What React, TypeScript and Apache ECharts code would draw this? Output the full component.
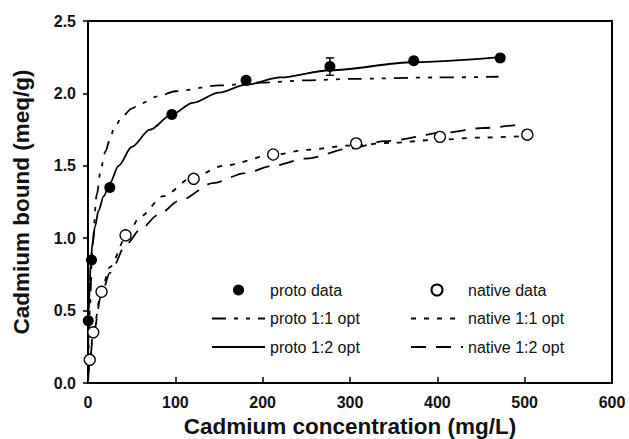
import React, { useEffect, useRef } from "react";
import * as echarts from "echarts";

// Measured data (Cadmium concentration mg/L vs Cadmium bound meq/g)
const protoX = [0.3, 4, 25, 96, 181, 277, 373, 472];
const protoY = [0.43, 0.85, 1.35, 1.855, 2.09, 2.185, 2.225, 2.245];
const protoErr = [0, 0, 0, 0, 0, 0.06, 0.015, 0.02];

const nativeX = [2, 6, 15.5, 43, 121, 212, 307, 403, 503];
const nativeY = [0.16, 0.35, 0.63, 1.02, 1.41, 1.578, 1.655, 1.7, 1.715];

// Model fit curves
const proto11X = [0, 1, 2, 5, 10, 15, 20, 25, 30, 40, 50, 60, 80, 100, 150, 200, 250, 300, 400, 470];
const proto11Y = [0, 0.3, 0.5, 0.95, 1.3, 1.49, 1.6, 1.68, 1.765, 1.845, 1.895, 1.93, 1.98, 2.015, 2.055, 2.075, 2.09, 2.1, 2.11, 2.115];

const proto12X = [0, 0.5, 1, 2, 3, 5, 8, 12, 18, 25, 35, 50, 71, 96, 120, 150, 181, 220, 277, 373, 472];
const proto12Y = [0, 0.35, 0.5, 0.7, 0.82, 0.96, 1.08, 1.19, 1.29, 1.38, 1.5, 1.63, 1.75, 1.855, 1.935, 2.005, 2.06, 2.11, 2.16, 2.215, 2.25];

const native11X = [0, 2, 6, 15, 25, 43, 60, 86, 120, 155, 212, 250, 300, 350, 400, 450, 500];
const native11Y = [0, 0.16, 0.35, 0.63, 0.8, 1.0, 1.15, 1.29, 1.42, 1.5, 1.575, 1.61, 1.64, 1.66, 1.68, 1.695, 1.705];

const native12X = [0, 2, 6, 15, 25, 44, 60, 80, 105, 143, 180, 212, 250, 300, 340, 410, 450, 500];
const native12Y = [0, 0.15, 0.33, 0.6, 0.76, 0.96, 1.06, 1.16, 1.26, 1.38, 1.45, 1.5, 1.55, 1.62, 1.67, 1.73, 1.76, 1.79];

const xTicks = { min: 0, max: 600, interval: 100 };
const yTicks = { min: 0, max: 2.5, interval: 0.5 };

const FONT = "'Liberation Sans', Arial, sans-serif";

const zip = (xs: number[], ys: number[]) => xs.map((x, i) => [x, ys[i]]);

export default function App() {
  const ref = useRef<HTMLDivElement>(null);
  useEffect(() => {
    if (!ref.current) return;
    const chart = echarts.init(ref.current, undefined, { renderer: "svg" });
    const lineBase = {
      type: "line" as const,
      showSymbol: false,
      symbol: "none",
      smooth: 0.3,
      smoothMonotone: "x" as const,
      silent: true,
      z: 2,
      itemStyle: { color: "rgba(0,0,0,0)", borderWidth: 0, opacity: 0 },
    };
    const legendText = { fontSize: 16, color: "#111", fontFamily: FONT };
    const titleStyle = { fontSize: 22.5, fontWeight: "bold" as const, color: "#111", fontFamily: FONT };
    chart.setOption({
      animation: false,
      backgroundColor: "#fff",
      grid: {
        left: 88,
        right: 17,
        top: 21,
        bottom: 56,
        outerBoundsMode: "none",
        containLabel: false,
        show: true,
        borderColor: "#000",
        borderWidth: 2,
        backgroundColor: "transparent",
      },
      legend: [
        {
          orient: "vertical",
          left: 211,
          top: 282,
          padding: 0,
          itemWidth: 53,
          itemHeight: 11,
          itemGap: 12.5,
          selectedMode: false,
          textStyle: legendText,
          data: ["proto data", "proto 1:1 opt", "proto 1:2 opt"],
        },
        {
          orient: "vertical",
          left: 410,
          top: 282,
          padding: 0,
          itemWidth: 52,
          itemHeight: 11,
          itemGap: 12.5,
          selectedMode: false,
          textStyle: legendText,
          data: ["native data", "native 1:1 opt", "native 1:2 opt"],
        },
      ],
      xAxis: {
        type: "value",
        ...xTicks,
        name: "Cadmium concentration (mg/L)",
        nameLocation: "middle",
        nameGap: 23,
        nameTextStyle: titleStyle,
        splitLine: { show: false },
        axisLine: { lineStyle: { color: "#000", width: 2 } },
        axisTick: { inside: true, length: 6, lineStyle: { color: "#000", width: 1.5 } },
        axisLabel: { margin: 11, fontSize: 16, fontWeight: "bold", color: "#111", fontFamily: FONT },
      },
      yAxis: {
        type: "value",
        ...yTicks,
        name: "Cadmium bound (meq/g)",
        nameLocation: "middle",
        nameGap: 55,
        nameTextStyle: titleStyle,
        splitLine: { show: false },
        axisLine: { lineStyle: { color: "#000", width: 2 } },
        axisTick: { inside: false, length: 5, lineStyle: { color: "#000", width: 1.5 } },
        axisLabel: {
          margin: 12,
          fontSize: 16,
          fontWeight: "bold",
          color: "#111",
          fontFamily: FONT,
          formatter: (v: number) => v.toFixed(1),
        },
      },
      series: [
        {
          ...lineBase,
          name: "proto 1:1 opt",
          data: zip(proto11X, proto11Y),
          lineStyle: { color: "#000", width: 1.8, type: [14, 8, 4, 8, 4, 8] },
        },
        {
          ...lineBase,
          name: "proto 1:2 opt",
          data: zip(proto12X, proto12Y),
          lineStyle: { color: "#000", width: 1.8, type: "solid" },
        },
        {
          ...lineBase,
          name: "native 1:1 opt",
          data: zip(native11X, native11Y),
          lineStyle: { color: "#000", width: 1.8, type: [5, 8] },
        },
        {
          ...lineBase,
          name: "native 1:2 opt",
          data: zip(native12X, native12Y),
          lineStyle: { color: "#000", width: 1.8, type: [15, 10] },
        },
        {
          type: "custom",
          name: "proto error",
          silent: true,
          z: 3,
          data: protoX.map((x, i) => [x, protoY[i], protoErr[i]]),
          renderItem: (_params: any, api: any) => {
            const x = api.value(0);
            const y = api.value(1);
            const e = api.value(2);
            if (!e) return { type: "group", children: [] };
            const top = api.coord([x, y + e]);
            const bot = api.coord([x, y - e]);
            const w = 4;
            const st = { stroke: "#000", lineWidth: 1.5 };
            return {
              type: "group",
              children: [
                { type: "line", shape: { x1: top[0], y1: top[1], x2: bot[0], y2: bot[1] }, style: st },
                { type: "line", shape: { x1: top[0] - w, y1: top[1], x2: top[0] + w, y2: top[1] }, style: st },
                { type: "line", shape: { x1: bot[0] - w, y1: bot[1], x2: bot[0] + w, y2: bot[1] }, style: st },
              ],
            };
          },
        },
        {
          type: "scatter",
          name: "native data",
          data: zip(nativeX, nativeY),
          symbol: "circle",
          symbolSize: 11,
          itemStyle: { color: "#fff", borderColor: "#000", borderWidth: 1.3, opacity: 1 },
          silent: true,
          z: 5,
        },
        {
          type: "scatter",
          name: "proto data",
          data: zip(protoX, protoY),
          symbol: "circle",
          symbolSize: 11,
          itemStyle: { color: "#000", opacity: 1 },
          silent: true,
          z: 6,
        },
      ],
    });
    return () => chart.dispose();
  }, []);
  return (
    <div
      ref={ref}
      style={{ position: "fixed", left: 0, top: 0, width: 629, height: 439, background: "#fff" }}
    />
  );
}
